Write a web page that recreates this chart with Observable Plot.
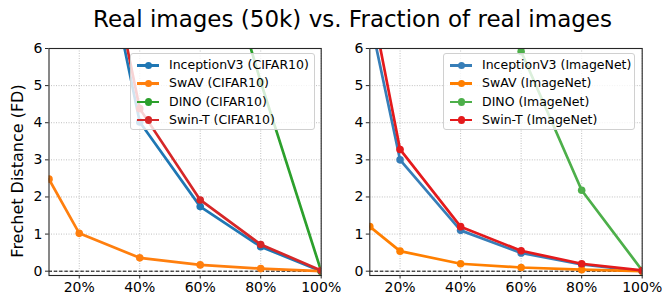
<!DOCTYPE html>
<html>
<head>
<meta charset="utf-8">
<script src="https://cdn.jsdelivr.net/npm/d3@7"></script>
<script src="https://cdn.jsdelivr.net/npm/@observablehq/plot@0.6"></script>
<style>
  html, body { margin: 0; padding: 0; background: #fff; }
  #wrap { position: relative; width: 668px; height: 297px; font-family: "DejaVu Sans", sans-serif; overflow: hidden; }
  #wrap svg { position: absolute; top: 0; }
  .title { position: absolute; top: 5px; left: 0; width: 705px; text-align: center; font-size: 23px; line-height: 28px; color: #000; }
  .ylabel { position: absolute; left: 17px; top: 171px; transform: translate(-50%, -50%) rotate(-90deg); white-space: nowrap; font-size: 16px; color: #000; }
  .legend { position: absolute; background: rgba(255,255,255,0.8); border: 1px solid #d0d0d0; border-radius: 3px; font-size: 12.5px; color: #000; box-sizing: border-box; }
  .legend .row { position: relative; height: 18.3px; line-height: 18.3px; padding-left: 38px; white-space: nowrap; }
  .legend .sw { position: absolute; left: 6px; top: 8px; width: 22px; height: 2.6px; }
  .legend .mk { position: absolute; left: 13.5px; top: 5.5px; width: 7.5px; height: 7.5px; border-radius: 50%; }
</style>
</head>
<body>
<div id="wrap">
  <div class="title">Real images (50k) vs. Fraction of real images</div>
  <div class="ylabel">Frechet Distance (FD)</div>
</div>
<script>
// ---- data ----
const fractions = [10, 20, 40, 60, 80, 100];
const xTicks = [20, 40, 60, 80, 100];
const yTicks = [0, 1, 2, 3, 4, 5, 6];

const cifarNames = ["InceptionV3 (CIFAR10)", "SwAV (CIFAR10)", "DINO (CIFAR10)", "Swin-T (CIFAR10)"];
const cifarInception = [25, 11.9, 4.02, 1.74, 0.66, 0];
const cifarSwav      = [2.48, 1.02, 0.36, 0.17, 0.07, 0];
const cifarDino      = [60, 40, 22, 10.6, 5.1, 0];
const cifarSwin      = [28, 12.3, 4.38, 1.92, 0.72, 0.02];
const cifarColors = ["#1f77b4", "#ff7f0e", "#2ca02c", "#d62728"];

const imagenetNames = ["InceptionV3 (ImageNet)", "SwAV (ImageNet)", "DINO (ImageNet)", "Swin-T (ImageNet)"];
const imagenetInception = [6.85, 3.0, 1.1, 0.49, 0.18, 0];
const imagenetSwav      = [1.2, 0.54, 0.2, 0.1, 0.04, 0];
const imagenetDino      = [30, 18, 11, 5.92, 2.18, 0.02];
const imagenetSwin      = [7.46, 3.28, 1.2, 0.55, 0.2, 0.02];
const imagenetColors = ["#377eb8", "#ff7f00", "#4daf4a", "#e41a1c"];

const yDomain = [-0.116, 6];

function toRows(names, seriesList) {
  const rows = [];
  names.forEach((n, i) => fractions.forEach((f, j) => rows.push({series: n, x: f, y: seriesList[i][j]})));
  return rows;
}

function panel(names, seriesList, colors, opts) {
  const rows = toRows(names, seriesList);
  const marks = [
    Plot.gridX(xTicks, {stroke: "#b0b0b0", strokeOpacity: 1, strokeDasharray: "1,1.5", strokeWidth: 0.8}),
    Plot.gridY(yTicks, {stroke: "#b0b0b0", strokeOpacity: 1, strokeDasharray: "1,1.5", strokeWidth: 0.8}),
    Plot.ruleY([0], {stroke: "#000", strokeDasharray: "3.5,1.8", strokeWidth: 1})
  ];
  names.forEach((n) => {
    const d = rows.filter(r => r.series === n);
    marks.push(Plot.line(d, {x: "x", y: "y", stroke: "series", strokeWidth: 2.7, clip: true}));
    marks.push(Plot.dot(d, {x: "x", y: "y", fill: "series", r: 3.8, clip: true}));
  });
  marks.push(Plot.frame({stroke: "#262626", strokeWidth: 1.1}));
  marks.push(Plot.axisX({ticks: xTicks, tickFormat: d => d + "%", tickSize: 3.5, tickPadding: 3, fontSize: 14, label: null, stroke: "#262626"}));
  marks.push(Plot.axisY({ticks: yTicks, tickFormat: d => String(d), tickSize: 3.5, tickPadding: 3, fontSize: 14, label: null, stroke: "#262626"}));
  return Plot.plot({
    width: 334,
    height: 297,
    marginLeft: opts.ml,
    marginRight: opts.mr,
    marginTop: 48,
    marginBottom: 22,
    style: {fontFamily: "DejaVu Sans, sans-serif", color: "#000", background: "transparent", overflow: "visible"},
    x: {domain: [10, 100]},
    y: {domain: yDomain},
    color: {domain: names, range: colors},
    marks
  });
}

const wrap = document.getElementById("wrap");
const left = panel(cifarNames, [cifarInception, cifarSwav, cifarDino, cifarSwin], cifarColors, {ml: 48.5, mr: 13.3});
left.style.left = "0px";
wrap.appendChild(left);
const right = panel(imagenetNames, [imagenetInception, imagenetSwav, imagenetDino, imagenetSwin], imagenetColors, {ml: 35.3, mr: 26.3});
right.style.left = "334px";
wrap.appendChild(right);

function legend(names, colors, leftPx, widthPx) {
  const box = document.createElement("div");
  box.className = "legend";
  box.style.left = leftPx + "px";
  box.style.top = "53px";
  box.style.width = widthPx + "px";
  box.style.height = "77px";
  box.style.paddingTop = "2px";
  names.forEach((n, i) => {
    const row = document.createElement("div");
    row.className = "row";
    const sw = document.createElement("div"); sw.className = "sw"; sw.style.background = colors[i];
    const mk = document.createElement("div"); mk.className = "mk"; mk.style.background = colors[i];
    row.appendChild(sw); row.appendChild(mk);
    row.appendChild(document.createTextNode(n));
    box.appendChild(row);
  });
  wrap.appendChild(box);
}
legend(cifarNames, cifarColors, 130, 185);
legend(imagenetNames, imagenetColors, 443, 192);
</script>
</body>
</html>
